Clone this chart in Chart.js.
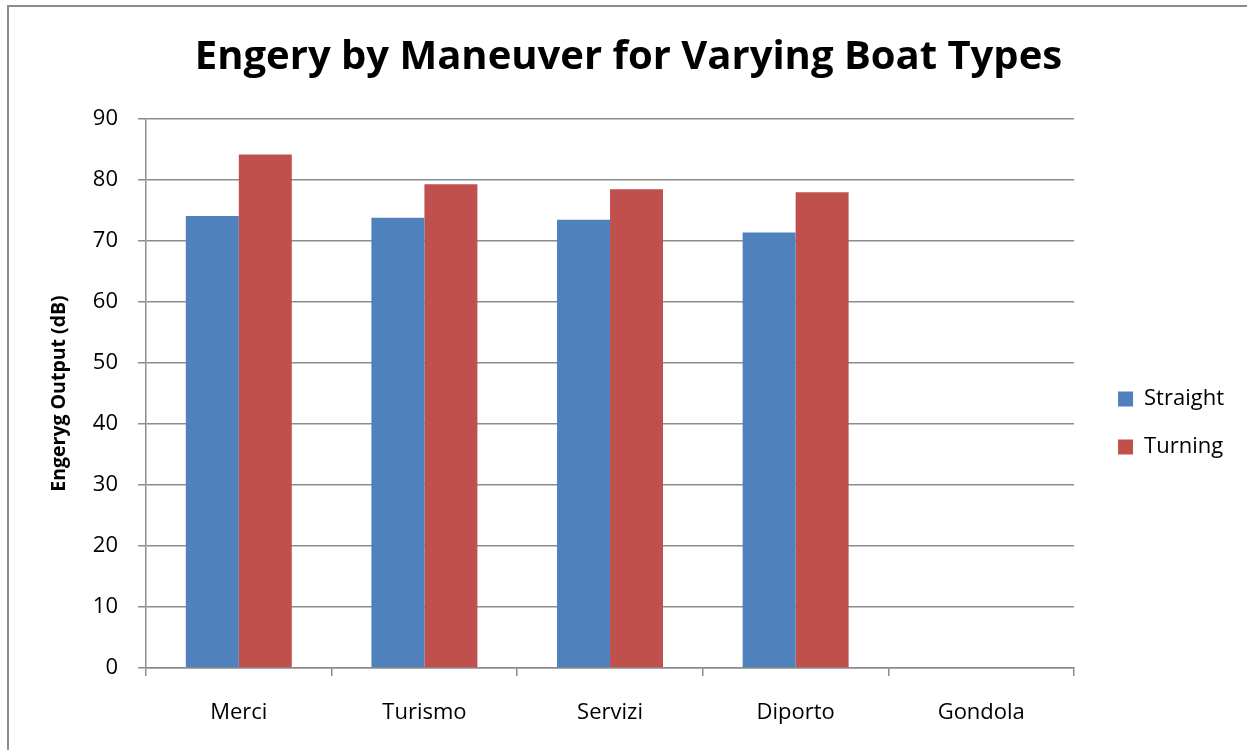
<!DOCTYPE html>
<html>
<head>
<meta charset="utf-8">
<script src="https://cdn.jsdelivr.net/npm/chart.js@4"></script>
<style>
    html, body { margin: 0; padding: 0; background: #fff; overflow: hidden; }
    #frame {
        position: absolute; left: 7px; top: 5px; width: 1400px; height: 900px;
        border-left: 2px solid #8c8c8c; border-top: 2px solid #8c8c8c;
    }
    #wrap { position: absolute; left: 0; top: 0; width: 1247px; height: 750px; }
</style>
</head>
<body>
<div id="frame"></div>
<div id="wrap"><canvas id="boat_chart"></canvas></div>
<script>
// chart data
const boatTypes = ["Merci", "Turismo", "Servizi", "Diporto", "Gondola"];
const straightValues = [74.1, 73.8, 73.5, 71.4, null];
const turningValues = [84.2, 79.3, 78.5, 78.0, null];
const yTicks = [0, 10, 20, 30, 40, 50, 60, 70, 80, 90];

const gridColor = "#8c8c8c";
const font = "'Open Sans', 'DejaVu Sans', sans-serif";

Chart.defaults.font.family = font;
Chart.defaults.color = "#000";

new Chart("boat_chart", {
    type: "bar",
    data: {
        labels: boatTypes,
        datasets: [{
            label: "Straight",
            data: straightValues,
            backgroundColor: "#4f81bd",
            categoryPercentage: 0.571,
            barPercentage: 1.0
        }, {
            label: "Turning",
            data: turningValues,
            backgroundColor: "#c0504d",
            categoryPercentage: 0.571,
            barPercentage: 1.0
        }]
    },
    options: {
        responsive: true,
        maintainAspectRatio: false,
        animation: false,
        layout: { padding: { left: 23, top: 0, right: 13, bottom: 0 } },
        plugins: {
            title: {
                display: true,
                text: "Engery by Maneuver for Varying Boat Types",
                font: { size: 40, weight: "bold" },
                padding: { top: 34, bottom: 37 }
            },
            legend: {
                position: "right",
                // empty title only pushes the entries down a bit
                title: { display: true, text: "", font: { size: 10 }, padding: { top: 84, bottom: 0 } },
                labels: {
                    boxWidth: 15,
                    boxHeight: 15,
                    padding: 26,
                    font: { size: 22 }
                }
            },
            tooltip: { enabled: false }
        },
        scales: {
            x: {
                offset: true,
                grid: {
                    offset: true,
                    drawOnChartArea: false,
                    drawTicks: true,
                    tickLength: 8,
                    color: gridColor,
                    lineWidth: 1.5
                },
                border: { color: gridColor, width: 1.5 },
                ticks: { font: { size: 22 }, padding: 24 },
                afterFit: (scale) => { scale.height = 82; }
            },
            y: {
                min: 0,
                max: 90,
                afterBuildTicks: (scale) => { scale.ticks = yTicks.map(v => ({ value: v })); },
                grid: { color: gridColor, lineWidth: 1.5, tickLength: 8 },
                border: { color: gridColor, width: 1.5 },
                ticks: { font: { size: 22 }, padding: 20 },
                title: {
                    display: true,
                    text: "Engeryg Output (dB)",
                    font: { size: 19.5, weight: "bold" },
                    padding: { top: 25, bottom: 0 }
                },
                afterFit: (scale) => { scale.width = 123; }
            },
            // empty axis, only keeps the legend away from the plot
            gap: {
                position: "right",
                display: true,
                grid: { display: false },
                border: { display: false },
                ticks: { display: false },
                afterFit: (scale) => { scale.width = 18; }
            }
        }
    }
});
</script>
</body>
</html>
